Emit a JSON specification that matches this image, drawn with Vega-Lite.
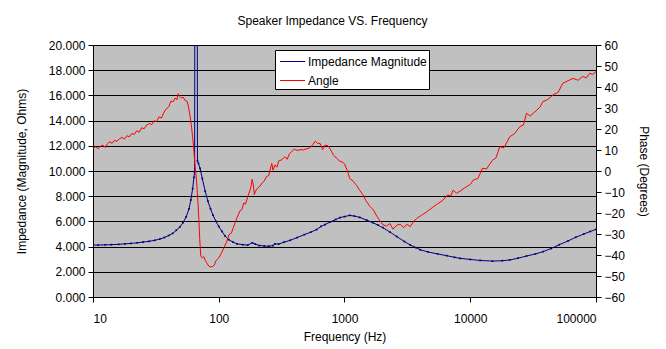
{
  "$schema": "https://vega.github.io/schema/vega-lite/v6.json",
  "width": 503,
  "height": 252,
  "autosize": {"type": "none"},
  "padding": {"left": 93, "top": 45, "right": 70, "bottom": 52},
  "background": "white",
  "title": {"text": "Speaker Impedance VS. Frequency", "fontSize": 12, "fontWeight": "normal", "font": "Liberation Sans", "color": "black", "offset": 11, "dx": -12},
  "config": {
    "view": {"fill": "#C0C0C0", "stroke": "#808080"},
    "axis": {"labelFont": "Liberation Sans", "titleFont": "Liberation Sans", "labelFontSize": 12, "titleFontSize": 12, "titleFontWeight": "normal", "labelColor": "black", "titleColor": "black", "domainColor": "black", "tickColor": "black", "gridColor": "black", "gridOpacity": 1, "tickSize": 5, "labelPadding": 3}
  },
  "datasets": {
    "imp": [
      {"f":10,"z":4.13},{"f":11,"z":4.12},{"f":12.5,"z":4.14},{"f":14,"z":4.15},{"f":16,"z":4.18},{"f":18,"z":4.22},{"f":20,"z":4.25},{"f":22.5,"z":4.3},{"f":25,"z":4.36},{"f":28,"z":4.42},{"f":31,"z":4.5},{"f":34,"z":4.6},{"f":37,"z":4.72},{"f":40,"z":4.88},{"f":43,"z":5.05},{"f":46,"z":5.3},{"f":49,"z":5.55},{"f":52,"z":5.9},{"f":55,"z":6.35},{"f":58,"z":7.0},{"f":60,"z":7.7},{"f":62,"z":8.6},{"f":63.5,"z":9.5},{"f":64.3,"z":9.9},{"f":64.8,"z":40},{"f":67.2,"z":40},{"f":67.7,"z":10.8},{"f":69,"z":10.6},{"f":71,"z":10.2},{"f":74,"z":9.4},{"f":78,"z":8.4},{"f":82,"z":7.6},{"f":86,"z":7.0},{"f":90,"z":6.5},{"f":95,"z":6.0},{"f":100,"z":5.6},{"f":106,"z":5.2},{"f":112,"z":4.85},{"f":120,"z":4.55},{"f":130,"z":4.35},{"f":140,"z":4.22},{"f":155,"z":4.15},{"f":170,"z":4.12},{"f":185,"z":4.3},{"f":195,"z":4.2},{"f":210,"z":4.08},{"f":230,"z":4.05},{"f":250,"z":4.03},{"f":270,"z":4.08},{"f":280,"z":4.22},{"f":300,"z":4.2},{"f":330,"z":4.35},{"f":370,"z":4.5},{"f":420,"z":4.72},{"f":480,"z":4.95},{"f":540,"z":5.15},{"f":600,"z":5.35},{"f":650,"z":5.6},{"f":700,"z":5.75},{"f":770,"z":5.95},{"f":850,"z":6.15},{"f":920,"z":6.3},{"f":1000,"z":6.38},{"f":1100,"z":6.48},{"f":1200,"z":6.42},{"f":1320,"z":6.32},{"f":1500,"z":6.1},{"f":1680,"z":5.9},{"f":1850,"z":5.7},{"f":2020,"z":5.5},{"f":2300,"z":5.15},{"f":2600,"z":4.8},{"f":3000,"z":4.4},{"f":3330,"z":4.13},{"f":3700,"z":3.92},{"f":4000,"z":3.75},{"f":4600,"z":3.58},{"f":5500,"z":3.42},{"f":6500,"z":3.28},{"f":7500,"z":3.15},{"f":8300,"z":3.07},{"f":10000,"z":2.98},{"f":12000,"z":2.9},{"f":15000,"z":2.85},{"f":18000,"z":2.88},{"f":20600,"z":2.94},{"f":24000,"z":3.08},{"f":28000,"z":3.25},{"f":33000,"z":3.42},{"f":38000,"z":3.6},{"f":44000,"z":3.85},{"f":51000,"z":4.15},{"f":60000,"z":4.45},{"f":69000,"z":4.74},{"f":80000,"z":5.0},{"f":90000,"z":5.2},{"f":100000,"z":5.37}
    ],
    "ang": [
      {"f":10,"a":10.8},{"f":10.5,"a":11.5},{"f":11,"a":10.6},{"f":11.5,"a":11.9},{"f":12,"a":12.3},{"f":12.5,"a":11.2},{"f":13,"a":12.8},{"f":13.6,"a":13.9},{"f":14.2,"a":13.2},{"f":14.8,"a":14.6},{"f":15.5,"a":14.1},{"f":16.2,"a":15.3},{"f":17,"a":16.0},{"f":17.8,"a":15.2},{"f":18.6,"a":16.8},{"f":19.5,"a":16.3},{"f":20.4,"a":17.9},{"f":21.3,"a":17.4},{"f":22.3,"a":19.2},{"f":23.3,"a":18.5},{"f":24.4,"a":20.6},{"f":25.5,"a":20.1},{"f":26.7,"a":21.9},{"f":28,"a":22.6},{"f":29.3,"a":22.1},{"f":30.7,"a":24.0},{"f":32,"a":23.5},{"f":33.5,"a":25.8},{"f":35,"a":25.2},{"f":36.6,"a":27.8},{"f":38.2,"a":29.6},{"f":40,"a":30.5},{"f":41.7,"a":33.3},{"f":43.5,"a":33.0},{"f":45,"a":34.8},{"f":46.5,"a":33.9},{"f":47.5,"a":36.8},{"f":49,"a":35.5},{"f":50.5,"a":34.7},{"f":52,"a":35.2},{"f":54,"a":33.6},{"f":56,"a":33.2},{"f":57.5,"a":30.5},{"f":59,"a":26.5},{"f":60.5,"a":22},{"f":62,"a":16},{"f":63,"a":12},{"f":64.5,"a":4},{"f":66,"a":-2},{"f":67,"a":-7},{"f":68.5,"a":-16},{"f":69.5,"a":-23},{"f":70.5,"a":-32},{"f":72,"a":-40.5},{"f":74,"a":-41.5},{"f":76,"a":-40.8},{"f":78,"a":-42.5},{"f":80,"a":-43.6},{"f":83,"a":-45.2},{"f":86,"a":-45.7},{"f":89,"a":-45.5},{"f":92,"a":-44.9},{"f":95,"a":-42.8},{"f":99,"a":-41.6},{"f":102,"a":-40.5},{"f":106,"a":-38.6},{"f":110,"a":-36.5},{"f":116,"a":-33.5},{"f":121,"a":-30.2},{"f":126,"a":-29.6},{"f":131,"a":-26.8},{"f":135,"a":-24.6},{"f":140,"a":-22.1},{"f":148,"a":-18.8},{"f":153,"a":-18.4},{"f":158,"a":-15.2},{"f":163,"a":-15.8},{"f":170,"a":-12.4},{"f":177,"a":-9.2},{"f":181,"a":-7.1},{"f":184,"a":-4.0},{"f":188,"a":-6.2},{"f":192,"a":-11.2},{"f":196,"a":-9.6},{"f":203,"a":-8.2},{"f":213,"a":-7.2},{"f":222,"a":-5.6},{"f":230,"a":-4.8},{"f":240,"a":-2.6},{"f":250,"a":-2.2},{"f":258,"a":1.4},{"f":264,"a":3.6},{"f":270,"a":0.4},{"f":280,"a":2.9},{"f":290,"a":1.8},{"f":300,"a":4.8},{"f":318,"a":5.4},{"f":335,"a":6.8},{"f":350,"a":5.6},{"f":365,"a":8.2},{"f":380,"a":9.3},{"f":400,"a":10.4},{"f":420,"a":9.8},{"f":450,"a":10.2},{"f":470,"a":10.0},{"f":500,"a":10.6},{"f":530,"a":11.0},{"f":560,"a":12.6},{"f":585,"a":14.2},{"f":610,"a":13.2},{"f":640,"a":13.1},{"f":670,"a":10.2},{"f":700,"a":12.3},{"f":740,"a":12.0},{"f":780,"a":9.8},{"f":820,"a":7.4},{"f":870,"a":6.0},{"f":920,"a":4.6},{"f":960,"a":4.3},{"f":1000,"a":3.4},{"f":1050,"a":0.4},{"f":1100,"a":-3.5},{"f":1170,"a":-4.8},{"f":1250,"a":-6.9},{"f":1320,"a":-9.2},{"f":1400,"a":-11.3},{"f":1480,"a":-14.1},{"f":1590,"a":-16.8},{"f":1700,"a":-18.6},{"f":1810,"a":-21.6},{"f":1920,"a":-23.7},{"f":2020,"a":-25.6},{"f":2150,"a":-26.2},{"f":2300,"a":-25.0},{"f":2430,"a":-27.7},{"f":2600,"a":-25.8},{"f":2770,"a":-25.3},{"f":2950,"a":-26.9},{"f":3150,"a":-25.4},{"f":3330,"a":-26.5},{"f":3550,"a":-24.0},{"f":3800,"a":-22.3},{"f":4100,"a":-21.1},{"f":4540,"a":-19.3},{"f":5000,"a":-17.4},{"f":5500,"a":-15.6},{"f":6000,"a":-14.2},{"f":6600,"a":-11.4},{"f":7000,"a":-11.9},{"f":7300,"a":-9.1},{"f":7800,"a":-10.6},{"f":8300,"a":-9.6},{"f":9000,"a":-8.1},{"f":10000,"a":-6.4},{"f":10600,"a":-4.3},{"f":11500,"a":-3.6},{"f":12500,"a":1.3},{"f":13500,"a":1.0},{"f":15000,"a":5.1},{"f":16000,"a":6.2},{"f":17200,"a":11.6},{"f":18500,"a":11.0},{"f":20600,"a":16.3},{"f":22500,"a":17.8},{"f":24900,"a":21.2},{"f":26500,"a":21.9},{"f":28000,"a":27.5},{"f":30000,"a":26.2},{"f":33900,"a":29.0},{"f":36000,"a":30.6},{"f":37800,"a":33.0},{"f":41000,"a":33.9},{"f":45500,"a":36.2},{"f":50000,"a":37.5},{"f":54500,"a":41.8},{"f":60000,"a":43.0},{"f":65800,"a":44.1},{"f":72000,"a":43.2},{"f":78000,"a":45.0},{"f":84000,"a":44.4},{"f":89000,"a":46.5},{"f":94000,"a":46.0},{"f":100000,"a":47.3}
    ]
  },
  "resolve": {"scale": {"y": "independent"}},
  "layer": [
    {
      "data": {"name": "imp"},
      "mark": {"type": "line", "strokeWidth": 1, "clip": true, "point": {"filled": true, "size": 3, "shape": "square", "clip": true}},
      "encoding": {
        "x": {"field": "f", "type": "quantitative", "scale": {"type": "log", "domain": [10, 100000], "nice": false},
              "axis": {"values": [10, 100, 1000, 10000, 100000], "format": "d", "title": "Frequency (Hz)", "grid": false, "titlePadding": 7, "labelPadding": 11}},
        "y": {"field": "z", "type": "quantitative", "scale": {"domain": [0, 20], "nice": false, "zero": false},
              "axis": {"orient": "left", "values": [0,2,4,6,8,10,12,14,16,18,20], "format": ".3f", "grid": true, "title": "Impedance (Magnitude, Ohms)", "titlePadding": 20}},
        "color": {"datum": "Impedance Magnitude", "type": "nominal",
                  "scale": {"domain": ["Impedance Magnitude", "Angle"], "range": ["#000080", "#FF0000"]},
                  "legend": {"orient": "none", "legendX": 182, "legendY": 5, "title": null, "direction": "vertical", "fillColor": "white", "strokeColor": "black", "padding": 2, "symbolType": "M-1.4,0H1.4", "symbolSize": 324, "symbolStrokeWidth": 1, "symbolOffset": 6, "labelFont": "Liberation Sans", "labelFontSize": 12, "labelColor": "black", "rowPadding": 3, "labelLimit": 300, "labelOffset": 6}}
      }
    },
    {
      "data": {"name": "ang"},
      "mark": {"type": "line", "strokeWidth": 1, "clip": true},
      "encoding": {
        "x": {"field": "f", "type": "quantitative", "scale": {"type": "log", "domain": [10, 100000], "nice": false}},
        "y": {"field": "a", "type": "quantitative", "scale": {"domain": [-60, 60], "nice": false, "zero": false},
              "axis": {"orient": "right", "values": [-60,-50,-40,-30,-20,-10,0,10,20,30,40,50,60], "format": "d", "grid": false, "title": "Phase (Degrees)", "titlePadding": 12}},
        "color": {"datum": "Angle", "type": "nominal"}
      }
    }
  ]
}
